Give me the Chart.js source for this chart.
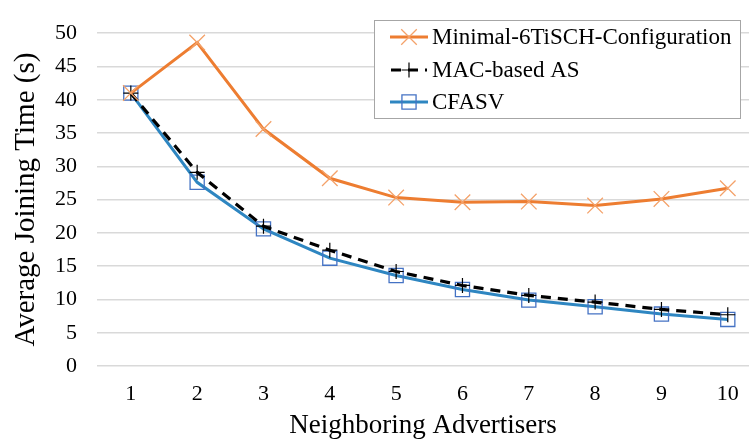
<!DOCTYPE html>
<html>
<head>
<meta charset="utf-8">
<script src="https://cdn.jsdelivr.net/npm/chart.js@4.4.1/dist/chart.umd.min.js"></script>
<style>
  html, body { margin: 0; padding: 0; background: #fff; }
  #wrap { width: 749px; height: 439px; }
</style>
</head>
<body>
<div id="wrap"><canvas id="c" width="749" height="439"></canvas></div>
<script>
// Number of neighboring advertisers
const advertisers = [1, 2, 3, 4, 5, 6, 7, 8, 9, 10];
// Average joining time (s) per scheme
const minimal6tisch = [41.0, 48.6, 35.6, 28.2, 25.3, 24.6, 24.7, 24.1, 25.1, 26.7];
const macBasedAS    = [41.0, 29.1, 21.0, 17.4, 14.2, 12.1, 10.6, 9.6, 8.5, 7.7];
const cfasv         = [41.0, 27.6, 20.6, 16.2, 13.6, 11.5, 9.9, 8.9, 7.8, 7.0];
const yTicks = [0, 5, 10, 15, 20, 25, 30, 35, 40, 45, 50];

const FONT = "'Liberation Serif', 'Times New Roman', serif";
const pts = arr => arr.map((v, i) => ({ x: advertisers[i], y: v }));

// Boxed legend drawn inside the plot area, top-right
const boxedLegend = {
  id: 'boxedLegend',
  afterDraw(chart) {
    const ctx = chart.ctx;
    const x0 = 374, y0 = 20, w = 366, h = 98;
    ctx.save();
    ctx.fillStyle = '#ffffff';
    ctx.fillRect(x0, y0, w, h);
    ctx.strokeStyle = '#a6a6a6';
    ctx.lineWidth = 1;
    ctx.strokeRect(x0 + 0.5, y0 + 0.5, w, h);
    const rows = [37, 70, 102];
    chart.data.datasets.forEach((ds, i) => {
      const y = rows[i];
      ctx.save();
      ctx.strokeStyle = ds.borderColor;
      ctx.lineWidth = ds.borderWidth;
      ctx.setLineDash(ds.borderDash || []);
      ctx.beginPath();
      if (ds.borderDash) { ctx.moveTo(391, y); ctx.lineTo(427, y); }
      else { ctx.moveTo(390, y); ctx.lineTo(428, y); }
      ctx.stroke();
      ctx.restore();

      ctx.save();
      ctx.strokeStyle = ds.pointBorderColor;
      ctx.fillStyle = 'rgba(0,0,0,0)';
      ctx.lineWidth = ds.pointBorderWidth;
      Chart.helpers.drawPoint(ctx, {
        pointStyle: ds.pointStyle,
        radius: ds.pointRadius,
        borderWidth: ds.pointBorderWidth,
        rotation: 0
      }, 409, y);
      ctx.restore();

      ctx.fillStyle = '#000';
      ctx.font = '23px ' + FONT;
      ctx.textBaseline = 'middle';
      ctx.textAlign = 'left';
      ctx.fillText(ds.label, 432, y + 1);
    });
    ctx.restore();
  }
};

new Chart(document.getElementById('c'), {
  type: 'line',
  data: {
    datasets: [
      {
        label: 'Minimal-6TiSCH-Configuration',
        data: pts(minimal6tisch),
        borderColor: '#ED7D31',
        borderWidth: 3,
        pointStyle: 'crossRot',
        pointRadius: 11,
        pointBorderColor: '#F4A26A',
        pointBorderWidth: 1.3,
        pointBackgroundColor: 'rgba(0,0,0,0)',
        tension: 0
      },
      {
        label: 'MAC-based AS',
        data: pts(macBasedAS),
        borderColor: '#000000',
        borderWidth: 3.2,
        borderDash: [10, 7],
        pointStyle: 'cross',
        pointRadius: 7.5,
        pointBorderColor: '#000000',
        pointBorderWidth: 1.2,
        pointBackgroundColor: 'rgba(0,0,0,0)',
        tension: 0
      },
      {
        label: 'CFASV',
        data: pts(cfasv),
        borderColor: '#2E86C1',
        borderWidth: 3,
        pointStyle: 'rect',
        pointRadius: 10,
        pointBorderColor: '#4472C4',
        pointBorderWidth: 1.3,
        pointBackgroundColor: 'rgba(0,0,0,0)',
        tension: 0
      }
    ]
  },
  options: {
    responsive: false,
    animation: false,
    layout: { autoPadding: false, padding: { top: 13, right: 0, left: 0, bottom: 0 } },
    plugins: { legend: { display: false }, tooltip: { enabled: false } },
    scales: {
      x: {
        type: 'linear',
        min: 0.49,
        max: 10.32,
        afterBuildTicks: s => { s.ticks = advertisers.map(v => ({ value: v })); },
        afterFit: s => { s.height = 73; s.paddingLeft = 0; s.paddingRight = 0; },
        grid: { display: false, drawTicks: false },
        border: { display: false },
        ticks: { color: '#000', font: { family: FONT, size: 22 }, padding: 15, maxRotation: 0 },
        title: {
          display: true,
          text: 'Neighboring Advertisers',
          color: '#000',
          font: { family: FONT, size: 27 },
          padding: { top: 0, bottom: -3 }
        }
      },
      y: {
        min: 0,
        max: 50,
        afterBuildTicks: s => { s.ticks = yTicks.map(v => ({ value: v })); },
        afterFit: s => { s.width = 97; },
        grid: { color: '#d9d9d9', lineWidth: 1.5, drawTicks: false },
        border: { display: false },
        ticks: { color: '#000', font: { family: FONT, size: 22 }, padding: 20 },
        title: {
          display: true,
          text: 'Average Joining Time (s)',
          color: '#000',
          font: { family: FONT, size: 29 },
          padding: { top: 9, bottom: 0 }
        }
      }
    }
  },
  plugins: [boxedLegend]
});
</script>
</body>
</html>
